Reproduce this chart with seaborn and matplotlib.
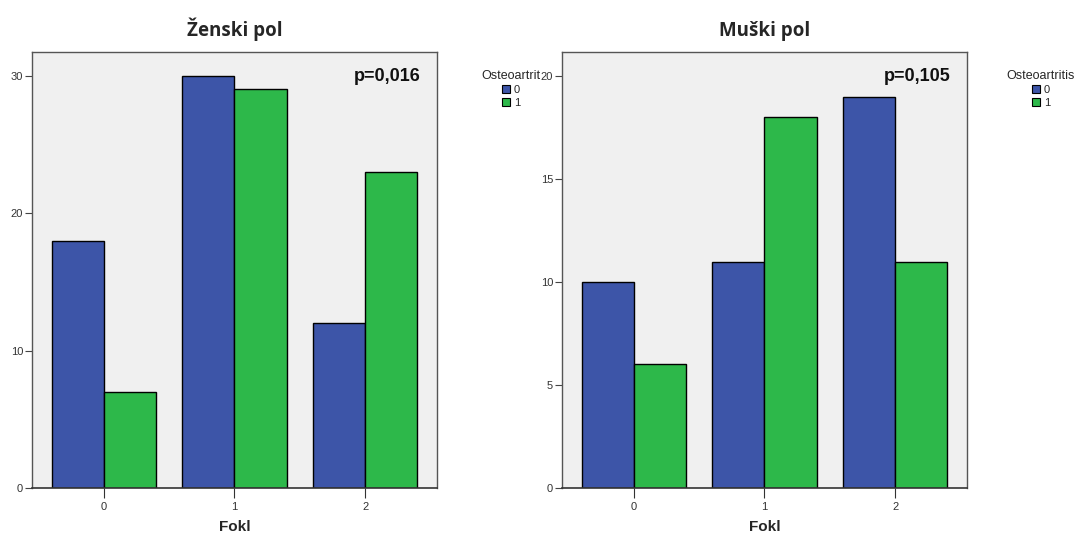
import numpy as np
import pandas as pd
import matplotlib
matplotlib.use("Agg")
import matplotlib.pyplot as plt
from matplotlib.patches import Patch
import seaborn as sns

# Counts by Fokl category (0, 1, 2) and osteoarthritis status (0 / 1)
fokl_levels = ["0", "1", "2"]
oa_levels = ["0", "1"]
female_oa0 = [18, 30, 12]
female_oa1 = [7, 29, 23]
male_oa0 = [10, 11, 19]
male_oa1 = [6, 18, 11]

titles = ["Ženski pol", "Muški pol"]
p_labels = ["p=0,016", "p=0,105"]
legend_titles = ["Osteoartrit", "Osteoartritis"]
y_ticks = [[0, 10, 20, 30], [0, 5, 10, 15, 20]]
y_max = [31.75, 21.2]

colors = {"0": "#3d55a8", "1": "#2db84a"}


def long_frame(oa0, oa1):
    rows = []
    for lvl, vals in zip(oa_levels, [oa0, oa1]):
        for f, v in zip(fokl_levels, vals):
            rows.append({"Fokl": f, "Osteoartritis": lvl, "Count": v})
    return pd.DataFrame(rows)


frames = [long_frame(female_oa0, female_oa1), long_frame(male_oa0, male_oa1)]

sns.set_theme(style="white")
plt.rcParams["font.family"] = ["Liberation Sans", "DejaVu Sans"]

fig = plt.figure(figsize=(10.81, 5.35), dpi=100)
fig.patch.set_facecolor("white")
axes = [fig.add_axes([0.0296, 0.088, 0.3746, 0.8155]),
        fig.add_axes([0.5199, 0.088, 0.3746, 0.8155])]

for i, ax in enumerate(axes):
    sns.barplot(data=frames[i], x="Fokl", y="Count", hue="Osteoartritis",
                order=fokl_levels, hue_order=oa_levels, palette=colors,
                width=0.8, gap=0, edgecolor="black", linewidth=1.0,
                saturation=1, errorbar=None, legend=False, ax=ax)
    ax.set_facecolor("#f0f0f0")
    ax.set_xlim(-0.55, 2.55)
    ax.set_ylim(0, y_max[i])
    ax.set_yticks(y_ticks[i])
    ax.tick_params(axis="y", length=5, width=0.8, color="#444444",
                   labelsize=8, labelcolor="#333333", direction="out",
                   left=True, pad=1.5)
    ax.tick_params(axis="x", length=7, width=0.8, color="#333333",
                   labelsize=8, labelcolor="#333333", direction="out",
                   bottom=True, pad=3)
    for side in ["top", "right", "left", "bottom"]:
        ax.spines[side].set_visible(True)
        ax.spines[side].set_color("#555555")
        ax.spines[side].set_linewidth(1.0)
    ax.spines["bottom"].set_linewidth(1.2)
    ax.spines["bottom"].set_color("#333333")
    ax.set_ylabel("")
    ax.set_xlabel("Fokl", fontsize=11, fontweight="bold", labelpad=6)
    ax.set_title(titles[i], fontsize=13.5, fontweight="bold",
                 fontfamily=["Open Sans", "DejaVu Sans"], pad=11)
    ax.text(0.96, 0.962, p_labels[i], transform=ax.transAxes, ha="right",
            va="top", fontsize=13, fontweight="bold", color="#111111")

    handles = [Patch(facecolor=colors[l], edgecolor="black", linewidth=0.8)
               for l in oa_levels]
    leg = ax.legend(handles, oa_levels, title=legend_titles[i],
                    loc="upper center", bbox_to_anchor=(1.183, 0.97),
                    frameon=False, fontsize=8, title_fontsize=9,
                    handlelength=0.75, handleheight=0.75, handletextpad=0.3,
                    labelspacing=0.25, borderpad=0.0)
    leg._legend_box.align = "center"

fig.savefig("out.png", dpi=100, facecolor="white")
